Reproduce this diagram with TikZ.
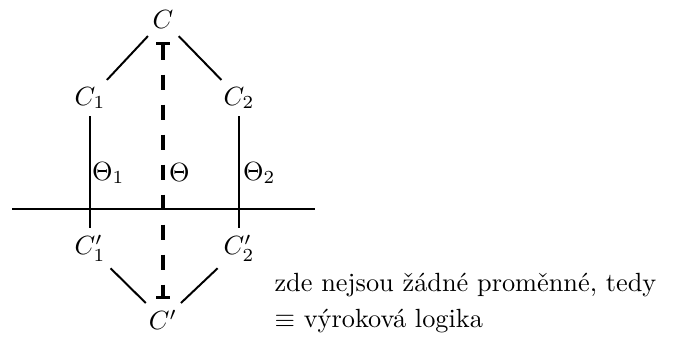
\documentclass[tikz,border=0pt]{standalone}
\usepackage{fontspec}
\usepackage{amsmath,amssymb}
\usetikzlibrary{arrows.meta, positioning}

\begin{document}
\begin{tikzpicture}[
    x=0.38pt, y=-0.38pt,
    term/.style={inner sep=2.5pt, font=\normalsize},
    link/.style={line width=0.75pt},
    subst/.style={line width=1.15pt, dash pattern=on 5.7pt off 5.7pt, {Bar[width=5.2pt,line width=1.2pt,sep=0pt]}-{Bar[width=5.2pt,line width=1.2pt,sep=0pt]}},
    lbl/.style={inner sep=1pt, anchor=west}
]
\useasboundingbox (0,0) rectangle (673,347);
\node[term] (C) at (163,20) {$C$};
\node[term] (C1) at (90,98) {$C_1$};
\node[term] (C2) at (239,98) {$C_2$};
\node[term] (C1p) at (90,248) {$C'_1$};
\node[term] (C2p) at (239,248) {$C'_2$};
\node[term] (Cp) at (163,320) {$C'$};
\coordinate (hl) at (12,209);
\coordinate (hr) at (315,209);

\draw[link] (C) -- (C1);
\draw[link] (C) -- (C2);
\draw[link] (C1) -- (C1p);
\draw[link] (C2) -- (C2p);
\draw[link] (C1p) -- (Cp);
\draw[link] (C2p) -- (Cp);
\draw[link] (hl) -- (hr);
\draw[subst, shorten <=2.3pt, shorten >=1.5pt] (C) -- (Cp);

\node[lbl] (t1) at (89,173) {$\Theta_1$};
\node[lbl] (t0) at (166,173) {$\Theta$};
\node[lbl] (t2) at (240,173) {$\Theta_2$};

\node[anchor=base west, inner sep=0pt] (txtA) at (274,291) {zde nejsou žádné proměnné, tedy};
\node[anchor=base west, inner sep=0pt] (txtB) at (274,327) {$\equiv$ výroková logika};
\end{tikzpicture}
\end{document}
